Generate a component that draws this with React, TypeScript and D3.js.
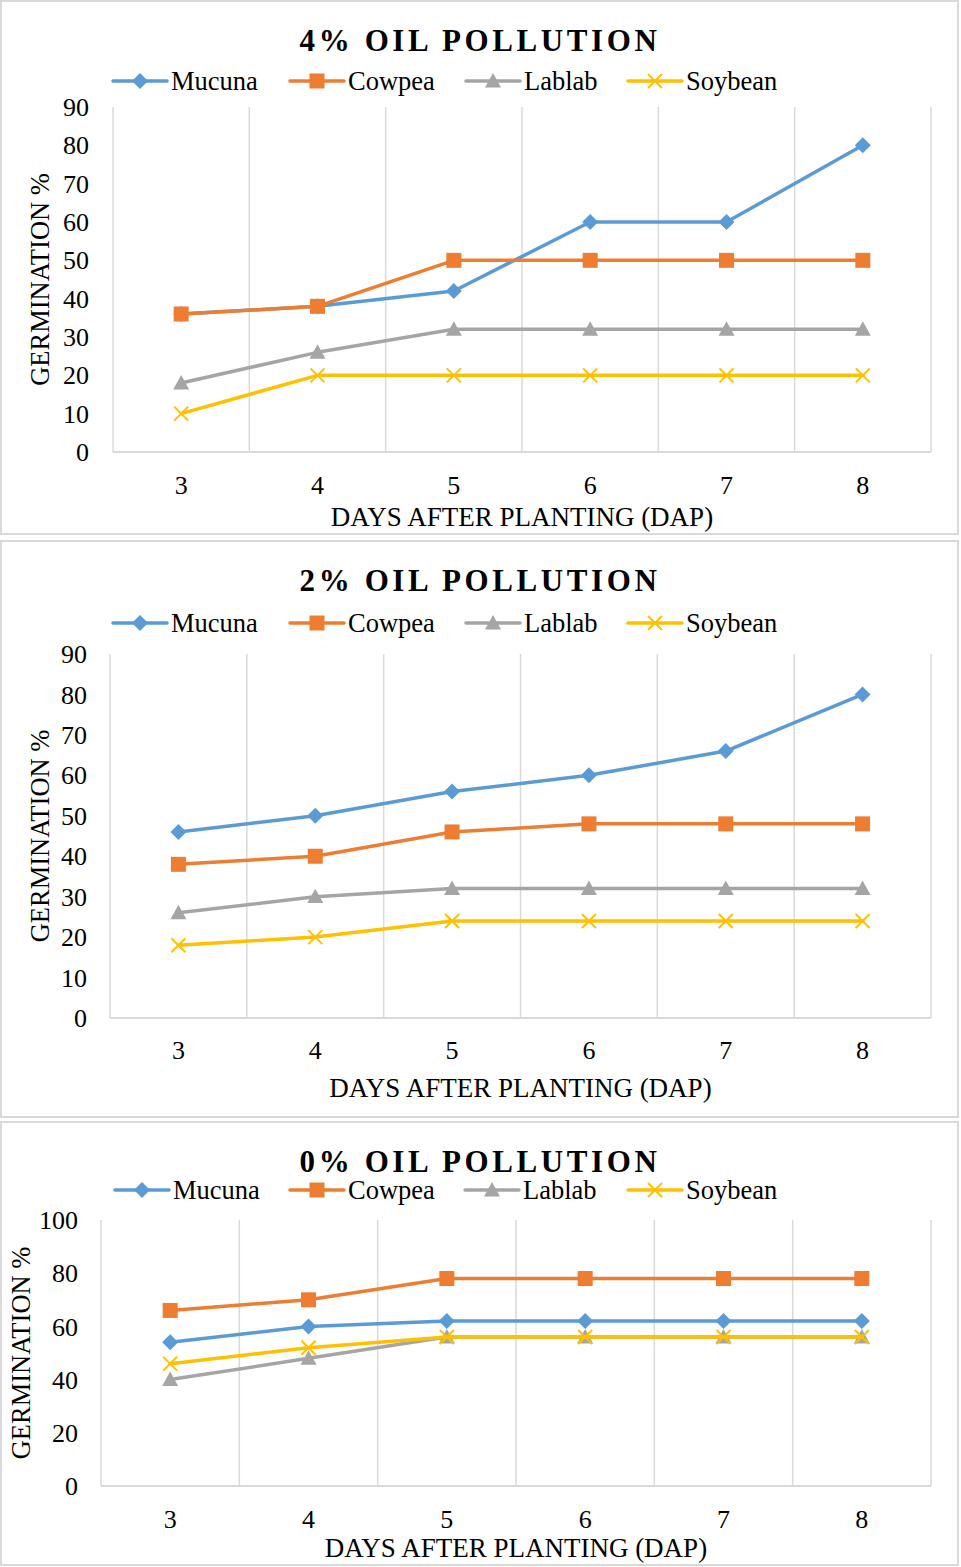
import React from "react";
import * as d3 from "d3";

const days = [3, 4, 5, 6, 7, 8];
const seriesNames = ["Mucuna", "Cowpea", "Lablab", "Soybean"];
const seriesColors = ["#5B9BD5", "#ED7D31", "#A5A5A5", "#FFC000"];
const seriesMarkers = ["diamond", "square", "triangle", "cross"];

const titles = ["4% OIL POLLUTION", "2% OIL POLLUTION", "0% OIL POLLUTION"];
const xAxisTitle = "DAYS AFTER PLANTING (DAP)";
const yAxisTitle = "GERMINATION %";

const mucuna4 = [36, 38, 42, 60, 60, 80];
const cowpea4 = [36, 38, 50, 50, 50, 50];
const lablab4 = [18, 26, 32, 32, 32, 32];
const soybean4 = [10, 20, 20, 20, 20, 20];

const mucuna2 = [46, 50, 56, 60, 66, 80];
const cowpea2 = [38, 40, 46, 48, 48, 48];
const lablab2 = [26, 30, 32, 32, 32, 32];
const soybean2 = [18, 20, 24, 24, 24, 24];

const mucuna0 = [54, 60, 62, 62, 62, 62];
const cowpea0 = [66, 70, 78, 78, 78, 78];
const lablab0 = [40, 48, 56, 56, 56, 56];
const soybean0 = [46, 52, 56, 56, 56, 56];

const yTicks90 = [0, 10, 20, 30, 40, 50, 60, 70, 80, 90];
const yTicks100 = [0, 20, 40, 60, 80, 100];

const panelData = [
  { title: titles[0], series: [mucuna4, cowpea4, lablab4, soybean4], yTicks: yTicks90 },
  { title: titles[1], series: [mucuna2, cowpea2, lablab2, soybean2], yTicks: yTicks90 },
  { title: titles[2], series: [mucuna0, cowpea0, lablab0, soybean0], yTicks: yTicks100 },
];

const layouts = [
  { boxY: 1, boxH: 533, left: 113, right: 931, top: 107, bottom: 452, yTickX: 89, xTickY: 494, xTitleY: 526, yTitleX: 40, titleY: 51, legendY: 81, legendXs: [113, 290, 466, 628] },
  { boxY: 541, boxH: 576, left: 110, right: 931, top: 654, bottom: 1018, yTickX: 87, xTickY: 1059, xTitleY: 1097, yTitleX: 40, titleY: 591, legendY: 623, legendXs: [113, 290, 466, 628] },
  { boxY: 1122, boxH: 443, left: 101, right: 931, top: 1220, bottom: 1486, yTickX: 78, xTickY: 1528, xTitleY: 1557, yTitleX: 21, titleY: 1172, legendY: 1190, legendXs: [115, 290, 465, 628] },
];

const FONT = "'Liberation Serif', 'Times New Roman', serif";

function Marker({ type, x, y, color }: { type: string; x: number; y: number; color: string }) {
  if (type === "diamond") {
    const s = 8;
    return <path d={`M${x},${y - s}L${x + s},${y}L${x},${y + s}L${x - s},${y}Z`} fill={color} />;
  }
  if (type === "square") {
    const s = 7.5;
    return <rect x={x - s} y={y - s} width={2 * s} height={2 * s} fill={color} />;
  }
  if (type === "triangle") {
    const s = 8;
    return <path d={`M${x},${y - s}L${x + s},${y + s * 0.8}L${x - s},${y + s * 0.8}Z`} fill={color} />;
  }
  const s = 7;
  return (
    <path
      d={`M${x - s},${y - s}L${x + s},${y + s}M${x - s},${y + s}L${x + s},${y - s}`}
      stroke={color}
      strokeWidth={2}
      fill="none"
    />
  );
}

function Panel({ data, lay }: { data: any; lay: any }) {
  const n = days.length;
  const band = (lay.right - lay.left) / n;
  const x = d3
    .scaleBand<number>()
    .domain(days)
    .range([lay.left, lay.right])
    .paddingInner(0)
    .paddingOuter(0);
  const yMax = data.yTicks[data.yTicks.length - 1];
  const y = d3.scaleLinear().domain([0, yMax]).range([lay.bottom, lay.top]);
  const cx = (d: number) => (x(d) as number) + x.bandwidth() / 2;
  const line = d3
    .line<number>()
    .x((_, i) => cx(days[i]))
    .y((v) => y(v));
  const grid = d3.range(n + 1).map((i) => lay.left + i * band);

  return (
    <g>
      <rect x={1} y={lay.boxY} width={957} height={lay.boxH} fill="#fff" stroke="#d9d9d9" strokeWidth={2} />
      <text
        x={480}
        y={lay.titleY}
        textAnchor="middle"
        fontFamily={FONT}
        fontWeight="bold"
        fontSize={31}
        letterSpacing={3.6}
        fill="#000"
      >
        {data.title}
      </text>
      {seriesNames.map((name, i) => {
        const lx = lay.legendXs[i];
        return (
          <g key={name}>
            <line x1={lx} x2={lx + 54} y1={lay.legendY} y2={lay.legendY} stroke={seriesColors[i]} strokeWidth={3.5} strokeLinecap="round" />
            <Marker type={seriesMarkers[i]} x={lx + 27} y={lay.legendY} color={seriesColors[i]} />
            <text x={lx + 58} y={lay.legendY} dy="0.33em" fontFamily={FONT} fontSize={26.5} fill="#000">
              {name}
            </text>
          </g>
        );
      })}
      {grid.map((gx, i) => (
        <line key={i} x1={gx} x2={gx} y1={lay.top} y2={lay.bottom} stroke="#d9d9d9" strokeWidth={1.5} />
      ))}
      <line x1={lay.left} x2={lay.right} y1={lay.bottom} y2={lay.bottom} stroke="#d9d9d9" strokeWidth={2} />
      {data.yTicks.map((t: number) => (
        <text key={t} x={lay.yTickX} y={y(t)} dy="0.35em" textAnchor="end" fontFamily={FONT} fontSize={26} fill="#000">
          {t}
        </text>
      ))}
      {days.map((d) => (
        <text key={d} x={cx(d)} y={lay.xTickY} textAnchor="middle" fontFamily={FONT} fontSize={26} fill="#000">
          {d}
        </text>
      ))}
      <text x={(lay.left + lay.right) / 2} y={lay.xTitleY} textAnchor="middle" fontFamily={FONT} fontSize={27} fill="#000">
        {xAxisTitle}
      </text>
      <text
        transform={`translate(${lay.yTitleX},${(lay.top + lay.bottom) / 2}) rotate(-90)`}
        dy="0.35em"
        textAnchor="middle"
        fontFamily={FONT}
        fontSize={26.5}
        fill="#000"
      >
        {yAxisTitle}
      </text>
      {data.series.map((vals: number[], si: number) => (
        <g key={si}>
          <path d={line(vals) || ""} fill="none" stroke={seriesColors[si]} strokeWidth={3.5} strokeLinejoin="round" strokeLinecap="round" />
          {vals.map((v, i) => (
            <Marker key={i} type={seriesMarkers[si]} x={cx(days[i])} y={y(v)} color={seriesColors[si]} />
          ))}
        </g>
      ))}
    </g>
  );
}

export default function App() {
  return (
    <svg
      width={961}
      height={1567}
      style={{ position: "absolute", left: 0, top: 0, background: "#fff" }}
    >
      <rect x={0} y={0} width={961} height={1567} fill="#fff" />
      {panelData.map((p, i) => (
        <Panel key={i} data={p} lay={layouts[i]} />
      ))}
    </svg>
  );
}
